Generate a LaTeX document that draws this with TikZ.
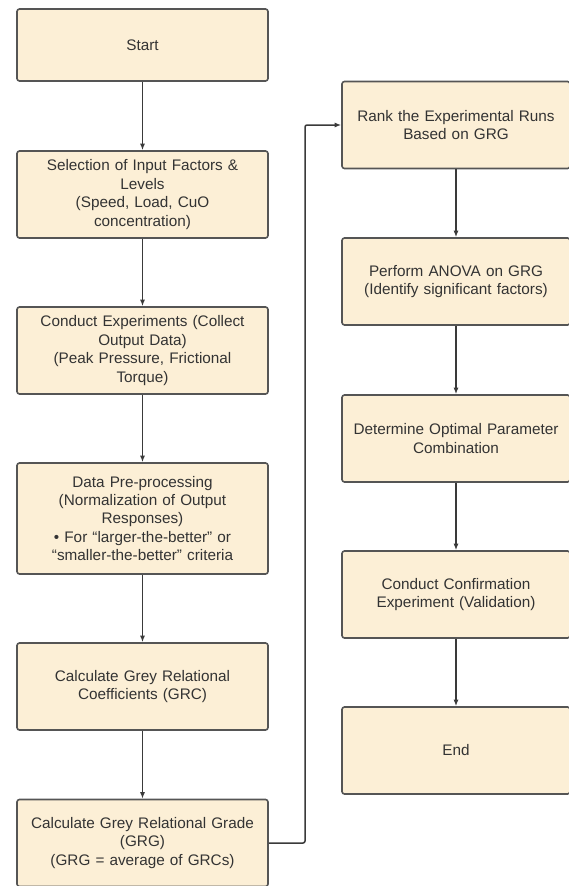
\documentclass[tikz,border=0pt]{standalone}
\usepackage{fontspec}
\setmainfont{Liberation Sans}
\usetikzlibrary{arrows.meta}
\definecolor{boxfill}{HTML}{FCEFD6}
\definecolor{boxline}{HTML}{555555}
\definecolor{txt}{HTML}{333333}
\definecolor{arr}{HTML}{3A3A3A}
\begin{document}
\begin{tikzpicture}[x=1pt,y=-1pt,
  stepbox/.style={draw=boxline, line width=1.6pt, fill=boxfill, rounded corners=2.5pt,
    align=center, text=txt, inner sep=2pt,
    font=\fontsize{15.3}{18.4}\selectfont},
  lbox/.style={stepbox, minimum width=251pt, minimum height=87pt, text width=245pt},
  rbox/.style={stepbox, minimum width=228pt, minimum height=87pt, text width=222pt},
  conn/.style={draw=arr, line width=1.5pt, -{Latex[length=6.5pt,width=5pt]}}]
\useasboundingbox (0,0) rectangle (568,886);
\fill[white] (0,0) rectangle (568,886);
\node[lbox, minimum height=72pt] (start) at (142.5,45) {Start};
\node[lbox] (sel) at (142.5,194.5) {Selection of Input Factors \&\\Levels\\(Speed, Load, CuO\\concentration)};
\node[lbox] (cond) at (142.5,350.5) {Conduct Experiments (Collect\\Output Data)\\(Peak Pressure, Frictional\\Torque)};
\node[lbox, minimum height=111pt] (pre) at (142.5,518.5) {Data Pre-processing\\(Normalization of Output\\Responses)\\\textbullet{} For “larger-the-better” or\\“smaller-the-better” criteria};
\node[lbox] (grc) at (142.5,686.5) {Calculate Grey Relational\\Coefficients (GRC)};
\node[lbox] (grg) at (142.5,843) {Calculate Grey Relational Grade\\(GRG)\\(GRG = average of GRCs)};
\node[rbox] (rank) at (456,125) {Rank the Experimental Runs\\Based on GRG};
\node[rbox] (anova) at (456,281.5) {Perform ANOVA on GRG\\(Identify significant factors)};
\node[rbox] (opt) at (456,438.5) {Determine Optimal Parameter\\Combination};
\node[rbox] (conf) at (456,594.5) {Conduct Confirmation\\Experiment (Validation)};
\node[rbox] (end) at (456,750.5) {End};
\draw[conn] (start) -- (sel);
\draw[conn] (sel) -- (cond);
\draw[conn] (cond) -- (pre);
\draw[conn] (pre) -- (grc);
\draw[conn] (grc) -- (grg);
\coordinate (c1) at (305,843);
\coordinate (c2) at (305,125);
\draw[conn, rounded corners=2pt] (grg.east) -- (c1) -- (c2) -- (rank.west);
\draw[conn] (rank) -- (anova);
\draw[conn] (anova) -- (opt);
\draw[conn] (opt) -- (conf);
\draw[conn] (conf) -- (end);
\end{tikzpicture}
\end{document}
